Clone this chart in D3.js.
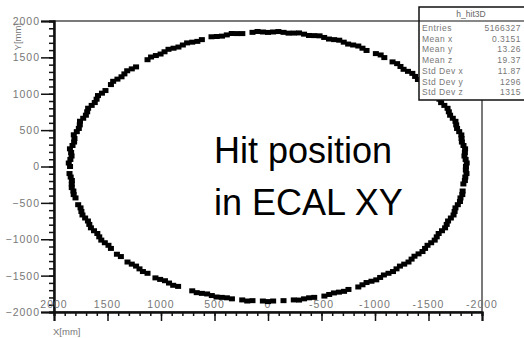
<!DOCTYPE html>
<html>
<head>
<meta charset="utf-8">
<script src="https://cdn.jsdelivr.net/npm/d3@7"></script>
<style>
  body { margin: 0; background: #fff; }
  svg text { font-family: "Liberation Sans", Arial, sans-serif; }
</style>
</head>
<body>
<script>

// hit positions [x, y] in mm
var hits = [
  [1850, 0], [1862, 48], [1847, 97], [1836, 144], [1840, 193], [1851, 243], [1827, 289], [1812, 336],
  [1809, 385], [1815, 436], [1787, 479], [1768, 523], [1759, 572], [1757, 622], [1727, 663], [1702, 705],
  [1690, 752], [1681, 801], [1648, 840], [1619, 879], [1602, 925], [1589, 975], [1552, 1008], [1519, 1044],
  [1468, 1126], [1447, 1171], [1407, 1201], [1369, 1233], [1342, 1273], [1316, 1316], [1273, 1342], [1233, 1369],
  [1126, 1468], [1093, 1505], [1048, 1525], [1004, 1546], [967, 1577], [930, 1611], [883, 1626], [837, 1642],
  [796, 1670], [756, 1699], [708, 1709], [660, 1720], [618, 1744], [528, 1783], [479, 1787], [430, 1792],
  [385, 1809], [339, 1828], [289, 1827], [240, 1827], [145, 1844], [98, 1856], [48, 1849], [0, 1843],
  [-48, 1849], [-97, 1855], [-145, 1844], [-192, 1833], [-241, 1834], [-290, 1836], [-337, 1819], [-383, 1801],
  [-432, 1799], [-482, 1796], [-525, 1774], [-570, 1752], [-618, 1744], [-666, 1736], [-708, 1709], [-749, 1683],
  [-796, 1670], [-844, 1656], [-883, 1626], [-921, 1595], [-1008, 1552], [-1053, 1533], [-1087, 1497],
  [-1164, 1438], [-1207, 1414], [-1238, 1375], [-1267, 1336], [-1308, 1308], [-1349, 1280], [-1375, 1238],
  [-1401, 1196], [-1438, 1164], [-1475, 1132], [-1497, 1087], [-1519, 1044], [-1552, 1008], [-1585, 972],
  [-1602, 925], [-1618, 878], [-1648, 840], [-1678, 800], [-1690, 752], [-1702, 705], [-1727, 663], [-1752, 621],
  [-1759, 572], [-1767, 523], [-1787, 479], [-1807, 434], [-1809, 385], [-1812, 336], [-1827, 289], [-1842, 243],
  [-1840, 193], [-1836, 144], [-1847, 97], [-1857, 48], [-1850, 0],
  [-1849, -48], [-1855, -97], [-1844, -145], [-1840, -193], [-1826, -240], [-1819, -337], [-1816, -386],
  [-1799, -432], [-1794, -481], [-1774, -525], [-1752, -569], [-1744, -618], [-1734, -666], [-1709, -708],
  [-1683, -749], [-1670, -796], [-1655, -843], [-1626, -883], [-1595, -921], [-1577, -967], [-1558, -1012],
  [-1525, -1048], [-1491, -1083], [-1468, -1126], [-1444, -1169], [-1407, -1201], [-1369, -1233], [-1342, -1273],
  [-1313, -1313], [-1273, -1342], [-1233, -1369], [-1201, -1407], [-1168, -1444], [-1126, -1468], [-1083, -1491],
  [-1048, -1525], [-1012, -1558], [-967, -1577], [-921, -1595], [-883, -1626], [-844, -1656], [-752, -1690],
  [-711, -1716], [-663, -1727], [-616, -1738], [-572, -1759], [-527, -1781], [-432, -1799], [-384, -1805],
  [-337, -1819], [-290, -1836], [-241, -1834], [-145, -1844], [-48, -1849], [0, -1857], [48, -1849],
  [145, -1844], [194, -1849], [241, -1834],
  [337, -1819], [384, -1805], [432, -1799], [481, -1794], [525, -1774], [569, -1752], [618, -1744], [666, -1734],
  [708, -1709], [840, -1648], [886, -1633], [925, -1602], [963, -1570], [1008, -1552], [1052, -1531],
  [1126, -1468], [1169, -1444], [1201, -1407], [1233, -1369], [1273, -1342], [1313, -1313], [1375, -1238],
  [1412, -1206], [1468, -1126], [1491, -1083], [1525, -1048], [1558, -1012], [1577, -967], [1595, -921],
  [1626, -883], [1655, -843], [1670, -796], [1683, -749], [1709, -708], [1734, -666], [1744, -618], [1752, -569],
  [1774, -525], [1799, -432], [1816, -386], [1819, -337], [1834, -290], [1834, -241], [1833, -192], [1844, -145],
  [1855, -97]
];

var majorTicks = [-2000, -1500, -1000, -500, 0, 500, 1000, 1500, 2000];
var minorTicks = d3.range(-2000, 2001, 100);

var statNames = ["Entries", "Mean x", "Mean y", "Mean z", "Std Dev x", "Std Dev y", "Std Dev z"];
var statValues = ["5166327", "0.3151", "13.26", "19.37", "11.87", "1296", "1315"];

var svg = d3.select("body").append("svg")
            .attr("width", 524)
            .attr("height", 338)

var x = d3.scaleLinear().domain([2000, -2000]).range([54, 482]);
var y = d3.scaleLinear().domain([-2000, 2000]).range([312, 21]);

// frame
svg.append("rect")
   .attr("x", 54).attr("y", 21)
   .attr("width", 428).attr("height", 291)
   .attr("fill", "none")
   .attr("stroke", "#222")
   .attr("stroke-width", 1.2)

// y axis: minor + major ticks
var yMinor = svg.append("g")
   .attr("transform", "translate(54,0)")
   .call(d3.axisLeft(y).tickValues(minorTicks).tickSize(5).tickFormat(""))
var yMajor = svg.append("g")
   .attr("transform", "translate(54,0)")
   .call(d3.axisLeft(y).tickValues(majorTicks).tickSize(13).tickPadding(1).tickFormat(d3.format("d")))

// x axis: ticks below, labels above the line
var xMinor = svg.append("g")
   .attr("transform", "translate(0,312)")
   .call(d3.axisBottom(x).tickValues(minorTicks).tickSize(4).tickFormat(""))
var xMajor = svg.append("g")
   .attr("transform", "translate(0,312)")
   .call(d3.axisBottom(x).tickValues(majorTicks).tickSize(9).tickFormat(""))

svg.selectAll(".domain").attr("stroke", "#111").attr("stroke-width", 2)
svg.selectAll(".tick line").attr("stroke", "#111").attr("stroke-width", 1.5)
yMajor.selectAll("text")
   .attr("font-size", 10.5)
   .attr("letter-spacing", "1px")
   .attr("fill", "#777")

svg.append("g").selectAll("text")
   .data(majorTicks)
   .join("text")
   .attr("x", function(d) { return x(d); })
   .attr("y", 308)
   .attr("text-anchor", "middle")
   .attr("font-size", 10.5)
   .attr("letter-spacing", "1px")
   .attr("fill", "#777")
   .text(function(d) { return d; })

// axis titles
svg.append("text")
   .attr("x", 53).attr("y", 335)
   .attr("font-size", 9.5).attr("fill", "#777")
   .text("X[mm]")
svg.append("text")
   .attr("transform", "translate(21,23) rotate(-90)")
   .attr("text-anchor", "end")
   .attr("font-size", 9.5).attr("fill", "#777")
   .text("Y[mm]")

// hits
svg.append("g").selectAll("rect")
   .data(hits)
   .join("rect")
   .attr("x", function(d) { return x(d[0]) - 3; })
   .attr("y", function(d) { return y(d[1]) - 2.5; })
   .attr("width", 6)
   .attr("height", 5)
   .attr("fill", "#000")

// label text
svg.append("text")
   .attr("x", 214).attr("y", 163)
   .attr("font-size", 36)
   .text("Hit position")
svg.append("text")
   .attr("x", 214).attr("y", 215)
   .attr("font-size", 36)
   .text("in ECAL XY")

// stats box
var box = svg.append("g").attr("transform", "translate(419,7)")
box.append("rect")
   .attr("width", 110).attr("height", 93)
   .attr("fill", "#fff").attr("stroke", "#111").attr("stroke-width", 1.5)
box.append("line")
   .attr("x1", 0).attr("x2", 110).attr("y1", 14).attr("y2", 14)
   .attr("stroke", "#111").attr("stroke-width", 1.2)
box.append("text")
   .attr("x", 52).attr("y", 10)
   .attr("text-anchor", "middle")
   .attr("font-size", 8.5).attr("fill", "#666")
   .text("h_hit3D")
box.selectAll(".sname")
   .data(statNames)
   .join("text")
   .attr("x", 3)
   .attr("y", function(d, i) { return 24 + i * 10.7; })
   .attr("font-size", 8.5).attr("letter-spacing", "0.5px").attr("fill", "#777")
   .text(function(d) { return d; })
box.selectAll(".sval")
   .data(statValues)
   .join("text")
   .attr("x", 102)
   .attr("y", function(d, i) { return 24 + i * 10.7; })
   .attr("text-anchor", "end")
   .attr("font-size", 8.5).attr("letter-spacing", "0.5px").attr("fill", "#777")
   .text(function(d) { return d; })

</script>
</body>
</html>
